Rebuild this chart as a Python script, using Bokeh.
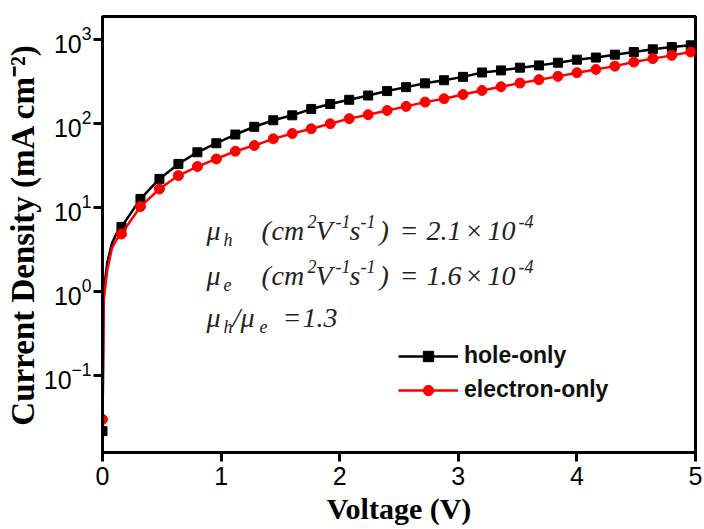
import math
from bokeh.plotting import figure
from bokeh.models import Range1d, Label, Legend, LegendItem, FixedTicker
from bokeh.embed import file_html
from bokeh.resources import INLINE

# ---- data ----
voltage = [0.00, 0.16, 0.32, 0.48, 0.64, 0.80, 0.96, 1.12, 1.28, 1.44,
           1.60, 1.76, 1.92, 2.08, 2.24, 2.40, 2.56, 2.72, 2.88, 3.04,
           3.20, 3.36, 3.52, 3.68, 3.84, 4.00, 4.16, 4.32, 4.48, 4.64,
           4.80, 4.96]
hole_only = [0.0217, 5.9, 12.7, 22.0, 33.2, 45.7, 58.6, 74.4, 92.0, 110,
             126, 150, 172, 193, 217, 245, 273, 303, 330, 362,
             408, 432, 466, 496, 534, 580, 615, 666, 715, 770,
             820, 860]
electron_only = [0.030, 4.85, 10.3, 16.7, 24.1, 30.9, 38.1, 47.0, 55.0, 66.1,
                 76.5, 87.0, 99.8, 115, 128, 144, 161, 181, 199, 223,
                 249, 276, 305, 335, 367, 406, 444, 486, 543, 597,
                 653, 715]
# extra (un-marked) points of the curves close to 0 V
onset_voltage = [0.01, 0.04, 0.08, 0.12]
hole_onset = [1.0, 2.2, 3.8, 5.0]
electron_onset = [0.78, 1.8, 3.3, 4.2]

x_ticks = [0, 1, 2, 3, 4, 5]
y_ticks = [0.1, 1, 10, 100, 1000]

# frame geometry of the reference (pixels)
FL, FR, FT, FB = 102, 695, 16, 452
X_MIN, X_MAX = 0.0, 5.0
Y_MIN, Y_MAX = 0.01208, 1897.0

p = figure(width=704, height=529, y_axis_type="log",
           x_range=Range1d(X_MIN, X_MAX), y_range=Range1d(Y_MIN, Y_MAX),
           output_backend="svg", toolbar_location=None,
           min_border_left=FL, min_border_right=704 - FR,
           min_border_top=FT, min_border_bottom=529 - FB)

p.xgrid.visible = False
p.ygrid.visible = False
p.outline_line_color = "black"
p.outline_line_width = 3
p.background_fill_color = "white"
p.border_fill_color = "white"

for ax in (p.xaxis[0], p.yaxis[0]):
    ax.axis_line_width = 3
    ax.major_tick_line_width = 3
    ax.major_tick_out = 9
    ax.major_tick_in = 0
    ax.minor_tick_line_color = None
    ax.major_label_text_font = "Liberation Sans"
    ax.major_label_text_font_size = "25px"
    ax.major_label_text_color = "black"
    ax.axis_label_text_font = "Liberation Serif"
    ax.axis_label_text_font_style = "bold"
    ax.axis_label_text_color = "black"

p.xaxis.axis_label_text_font_size = "30px"
p.yaxis.axis_label_text_font_size = "33px"
p.xaxis.ticker = FixedTicker(ticks=x_ticks)
p.yaxis.ticker = FixedTicker(ticks=y_ticks)
p.xaxis.axis_label = "Voltage (V)"
p.yaxis.axis_label = "Current Density (mA cm\u207b\u00b2)"
p.xaxis.major_label_standoff = 5
p.xaxis.axis_label_standoff = 4
p.yaxis.major_label_standoff = 2
p.yaxis.axis_label_standoff = 0

hx = [voltage[0]] + onset_voltage + voltage[1:]
hy = [hole_only[0]] + hole_onset + hole_only[1:]
ey = [electron_only[0]] + electron_onset + electron_only[1:]

l1 = p.line(hx, hy, line_color="black", line_width=2.5)
s1 = p.scatter(voltage, hole_only, marker="square", size=9,
               fill_color="black", line_color="black")
l2 = p.line(hx, ey, line_color="#ff0000", line_width=2.5)
s2 = p.scatter(voltage, electron_only, marker="circle", size=10,
               fill_color="#ff0000", line_color="#ff0000")

legend = Legend(items=[LegendItem(label="hole-only", renderers=[l1, s1]),
                       LegendItem(label="electron-only", renderers=[l2, s2])],
                location=(296, 49), border_line_color=None,
                background_fill_alpha=0, padding=0, margin=0, spacing=7,
                glyph_width=60, glyph_height=26, label_height=26,
                label_standoff=6, label_text_font="Liberation Sans",
                label_text_font_style="bold", label_text_font_size="23px",
                label_text_color="#111111")
p.add_layout(legend)


def to_data(xp, yp):
    xv = X_MIN + (xp - FL) / (FR - FL) * (X_MAX - X_MIN)
    ly0, ly1 = math.log10(Y_MIN), math.log10(Y_MAX)
    lv = ly1 - (yp - FT) / (FB - FT) * (ly1 - ly0)
    return xv, 10 ** lv


BIG, SMALL = "28px", "18px"
pieces = []
for sub, val, b in (("h", "2.1", 230), ("e", "1.6", 275)):
    pieces += [
        ("\u03bc", 206, b, BIG),
        (sub, 223, b + 9, SMALL),
        ("(", 261, b, BIG),
        ("cm", 271, b, BIG),
        ("2", 307, b - 9, SMALL),
        ("V", 315, b, BIG),
        ("-1", 335, b - 9, SMALL),
        ("s", 349, b, BIG),
        ("-1", 360, b - 9, SMALL),
        (")", 379, b, BIG),
        ("=", 399, b, BIG),
        (val, 426, b, BIG),
        ("\u00d7", 464, b, BIG),
        ("10", 487, b, BIG),
        ("-4", 518, b - 9, SMALL),
    ]
b3 = 317
pieces += [
    ("\u03bc", 206, b3, BIG),
    ("h", 223, b3 + 9, SMALL),
    ("/", 232, b3, BIG),
    ("\u03bc", 240, b3, BIG),
    ("e", 259, b3 + 9, SMALL),
    ("=", 282, b3, BIG),
    ("1.3", 302, b3, BIG),
]
for txt, xp, yp, fs in pieces:
    xv, yv = to_data(xp, yp)
    p.add_layout(Label(x=xv, y=yv, text=txt, text_font="Liberation Serif",
                       text_font_style="italic", text_font_size=fs,
                       text_baseline="alphabetic", text_align="left",
                       text_color="#222222"))

open("out.html", "w").write(file_html(p, INLINE))
